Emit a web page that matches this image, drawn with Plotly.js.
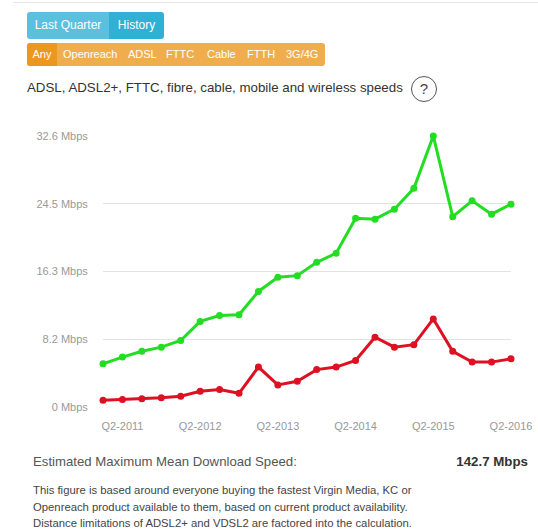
<!DOCTYPE html>
<html>
<head>
<meta charset="utf-8">
<script src="https://cdn.plot.ly/plotly-3.0.1.min.js"></script>
<style>
  html, body { margin:0; padding:0; background:#fff; width:538px; height:532px; overflow:hidden; font-family:"Liberation Sans", Arial, sans-serif; }
  .topline { position:absolute; left:13px; right:0; top:2px; height:0; border-top:1px solid #e6e6e6; }
  .btns { position:absolute; left:27px; top:12px; height:27px; width:137px; border-radius:3px; overflow:hidden; }
  .btns div { position:absolute; top:0; height:27px; color:#fff; font-size:12px; line-height:27px; text-align:center; white-space:nowrap; }
  .b1 { left:0; width:82px; background:#5bc0de; }
  .b2 { left:82px; width:55px; background:#31b0d5; }
  .tabs { position:absolute; left:27px; top:43px; height:23px; width:298px; background:#f0ad4e; border-radius:3px; overflow:hidden; }
  .tabs span { position:absolute; top:0; color:#fff; font-size:11px; line-height:23px; white-space:nowrap; }
  .tabs .on { left:0; width:30px; background:#ec971f; text-align:center; }
  .title { position:absolute; left:27px; top:80px; font-size:13.3px; color:#333; white-space:nowrap; }
  .q { position:absolute; left:411px; top:76px; width:24px; height:24px; border:1px solid #555; border-radius:50%; text-align:center; line-height:24px; font-size:15px; color:#444; }
  #chart { position:absolute; left:0; top:110px; width:538px; height:340px; }
  .est { position:absolute; left:33px; top:454px; font-size:13.2px; color:#555; white-space:nowrap; }
  .val { position:absolute; right:10px; top:454px; font-size:13.3px; color:#333; font-weight:bold; }
  .note { position:absolute; left:33px; top:482px; font-size:11.3px; color:#444; line-height:16.5px; white-space:nowrap; }
</style>
</head>
<body>
<div class="topline"></div>
<div class="btns"><div class="b1">Last Quarter</div><div class="b2">History</div></div>
<div class="tabs"><span class="on">Any</span><span style="left:36px">Openreach</span><span style="left:101px">ADSL</span><span style="left:139px">FTTC</span><span style="left:180px">Cable</span><span style="left:220px">FTTH</span><span style="left:259px">3G/4G</span></div>
<div class="title">ADSL, ADSL2+, FTTC, fibre, cable, mobile and wireless speeds</div>
<div class="q">?</div>
<div id="chart"></div>
<div class="est">Estimated Maximum Mean Download Speed:</div>
<div class="val">142.7 Mbps</div>
<div class="note">This figure is based around everyone buying the fastest Virgin Media, KC or<br>Openreach product available to them, based on current product availability.<br>Distance limitations of ADSL2+ and VDSL2 are factored into the calculation.</div>
<script>
const quarters = ["Q1-2011","Q2-2011","Q3-2011","Q4-2011","Q1-2012","Q2-2012","Q3-2012","Q4-2012",
  "Q1-2013","Q2-2013","Q3-2013","Q4-2013","Q1-2014","Q2-2014","Q3-2014","Q4-2014",
  "Q1-2015","Q2-2015","Q3-2015","Q4-2015","Q1-2016","Q2-2016"];
const maxSpeed = [5.2,6.0,6.7,7.2,8.0,10.3,11.0,11.1,13.9,15.6,15.8,17.4,18.5,22.7,22.6,23.8,26.3,32.6,22.9,24.8,23.2,24.4];
const minSpeed = [0.8,0.9,1.0,1.1,1.3,1.9,2.1,1.65,4.8,2.65,3.1,4.5,4.8,5.6,8.4,7.2,7.5,10.6,6.7,5.4,5.4,5.8];
const xTickVals = ["Q2-2011","Q2-2012","Q2-2013","Q2-2014","Q2-2015","Q2-2016"];
const yTickVals = [0, 8.15, 16.3, 24.45, 32.6];
const yTickText = ["0 Mbps","8.2 Mbps","16.3 Mbps","24.5 Mbps","32.6 Mbps"];

const traces = [
  { x: quarters, y: maxSpeed, type:'scatter', mode:'lines+markers', line:{color:'#22dd22', width:3}, marker:{color:'#22dd22', size:7}, cliponaxis:false, hoverinfo:'skip' },
  { x: quarters, y: minSpeed, type:'scatter', mode:'lines+markers', line:{color:'#dd1122', width:3}, marker:{color:'#dd1122', size:7}, cliponaxis:false, hoverinfo:'skip' }
];
const layout = {
  width:538, height:340,
  margin:{l:103, r:27, t:26, b:43},
  paper_bgcolor:'#fff', plot_bgcolor:'#fff',
  showlegend:false,
  font:{family:'"Liberation Sans", Arial, sans-serif', size:11, color:'#999'},
  xaxis:{ type:'category', range:[0,21], tickvals:xTickVals, ticktext:xTickVals, showgrid:false, zeroline:false, showline:false,
          ticks:'outside', ticklen:9, tickcolor:'rgba(0,0,0,0)', tickfont:{size:11, color:'#999'} },
  yaxis:{ range:[0,32.6], tickvals:yTickVals, ticktext:yTickText, showgrid:true, gridcolor:'#e3e3e3', gridwidth:1, zeroline:false, showline:false,
          ticks:'outside', ticklen:12, tickcolor:'rgba(0,0,0,0)', tickfont:{size:11, color:'#999'} }
};
Plotly.newPlot('chart', traces, layout, {displayModeBar:false, staticPlot:true});
</script>
</body>
</html>
